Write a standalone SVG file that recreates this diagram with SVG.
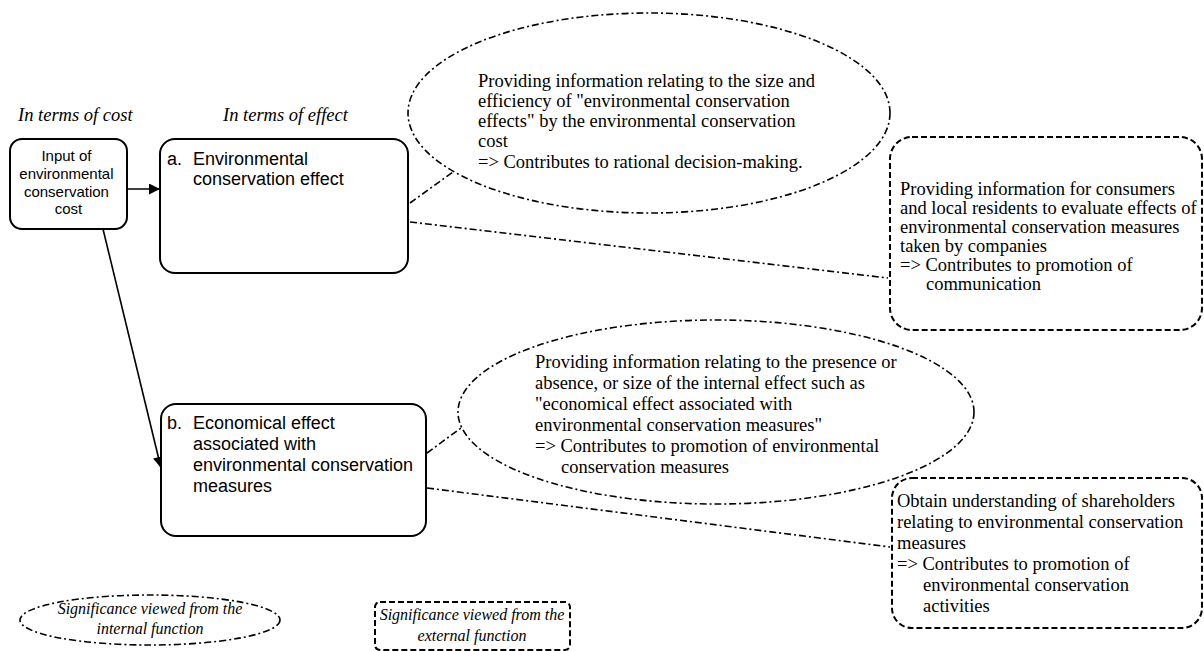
<svg xmlns="http://www.w3.org/2000/svg" width="1204" height="651" viewBox="0 0 1204 651">
<style>
.box{fill:#fff;stroke:#000;stroke-width:2}
.dash{fill:none;stroke:#000;stroke-width:1.6;stroke-dasharray:7 3 2 3}
.dbox{fill:#fff;stroke:#000;stroke-width:2;stroke-dasharray:6 3}
.sans{font-family:"Liberation Sans",Arial,sans-serif;fill:#000}
.serif{font-family:"Liberation Serif","Times New Roman",serif;font-size:18.5px;fill:#000}
.it{font-family:"Liberation Serif","Times New Roman",serif;font-style:italic;fill:#000}
.line{stroke:#000;stroke-width:1.6;fill:none}
</style>
<defs>
<marker id="ah" viewBox="0 0 10 10" refX="10" refY="5" markerWidth="12" markerHeight="11" markerUnits="userSpaceOnUse" orient="auto">
<path d="M0,0 L10,5 L0,10 z" fill="#000"/>
</marker>
</defs>

<g id="headers">
<text class="it" x="18" y="121" font-size="18.5">In terms of cost</text>
<text class="it" x="223" y="121" font-size="18.5">In terms of effect</text>
</g>

<g id="ellipse-internal-a">
<ellipse class="dash" cx="649" cy="113" rx="241" ry="100" fill="#fff"/>
<text class="serif" x="478" y="87">Providing information relating to the size and</text>
<text class="serif" x="478" y="107">efficiency of "environmental conservation</text>
<text class="serif" x="478" y="127">effects" by the environmental conservation</text>
<text class="serif" x="478" y="147">cost</text>
<text class="serif" x="478" y="168">=&gt; Contributes to rational decision-making.</text>
</g>

<g id="ellipse-internal-b">
<ellipse class="dash" cx="716" cy="412" rx="258" ry="92" fill="#fff"/>
<text class="serif" x="535" y="368">Providing information relating to the presence or</text>
<text class="serif" x="535" y="389">absence, or size of the internal effect such as</text>
<text class="serif" x="535" y="410">"economical effect associated with</text>
<text class="serif" x="535" y="431">environmental conservation measures"</text>
<text class="serif" x="535" y="452">=&gt; Contributes to promotion of environmental</text>
<text class="serif" x="561" y="473">conservation measures</text>
</g>

<g id="box-external-a">
<rect class="dbox" x="890" y="137" width="312" height="193" rx="22"/>
<text class="serif" x="900" y="195">Providing information for consumers</text>
<text class="serif" x="900" y="214">and local residents to evaluate effects of</text>
<text class="serif" x="900" y="233">environmental conservation measures</text>
<text class="serif" x="900" y="252">taken by companies</text>
<text class="serif" x="900" y="271">=&gt; Contributes to promotion of</text>
<text class="serif" x="926" y="290">communication</text>
</g>

<g id="box-external-b">
<rect class="dbox" x="892" y="478" width="310" height="150" rx="20"/>
<text class="serif" x="897" y="507">Obtain understanding of shareholders</text>
<text class="serif" x="897" y="528">relating to environmental conservation</text>
<text class="serif" x="897" y="549">measures</text>
<text class="serif" x="897" y="570">=&gt; Contributes to promotion of</text>
<text class="serif" x="923" y="591">environmental conservation</text>
<text class="serif" x="923" y="612">activities</text>
</g>

<g id="connectors">
<line class="line" x1="127" y1="189" x2="160" y2="189" marker-end="url(#ah)"/>
<line class="line" x1="103" y1="229" x2="161" y2="468" marker-end="url(#ah)"/>
<path class="dash" d="M410,203 L453,172"/>
<path class="dash" d="M410,222 L888,278"/>
<path class="dash" d="M427,453 L461,428"/>
<path class="dash" d="M427,488 L890,547"/>
</g>

<g id="node-cost">
<rect class="box" x="10" y="139" width="117" height="90" rx="12"/>
<text class="sans" font-size="15" text-anchor="middle">
<tspan x="68.5" y="161">Input of</tspan>
<tspan x="68.5" y="179">environmental</tspan>
<tspan x="68.5" y="197">conservation</tspan>
<tspan x="68.5" y="214">cost</tspan>
</text>
</g>

<g id="node-a">
<rect class="box" x="160" y="139" width="248" height="134" rx="15"/>
<text class="sans" font-size="18" x="167" y="165">a.</text>
<text class="sans" font-size="18" x="193" y="165">Environmental</text>
<text class="sans" font-size="18" x="193" y="185">conservation effect</text>
</g>

<g id="node-b">
<rect class="box" x="161" y="404" width="265" height="132" rx="15"/>
<text class="sans" font-size="18" x="167" y="429">b.</text>
<text class="sans" font-size="18" x="193" y="429">Economical effect</text>
<text class="sans" font-size="18" x="193" y="450">associated with</text>
<text class="sans" font-size="18" x="193" y="471">environmental conservation</text>
<text class="sans" font-size="18" x="193" y="492">measures</text>
</g>

<g id="legend">
<ellipse class="dash" cx="150" cy="620" rx="130" ry="25" fill="#fff"/>
<text class="it" font-size="16" text-anchor="middle" x="150" y="614">Significance viewed from the</text>
<text class="it" font-size="16" text-anchor="middle" x="150" y="634">internal function</text>
<rect class="dbox" x="375" y="602" width="195" height="48" rx="5"/>
<text class="it" font-size="16" text-anchor="middle" x="472" y="620">Significance viewed from the</text>
<text class="it" font-size="16" text-anchor="middle" x="472" y="641">external function</text>
</g>
</svg>
